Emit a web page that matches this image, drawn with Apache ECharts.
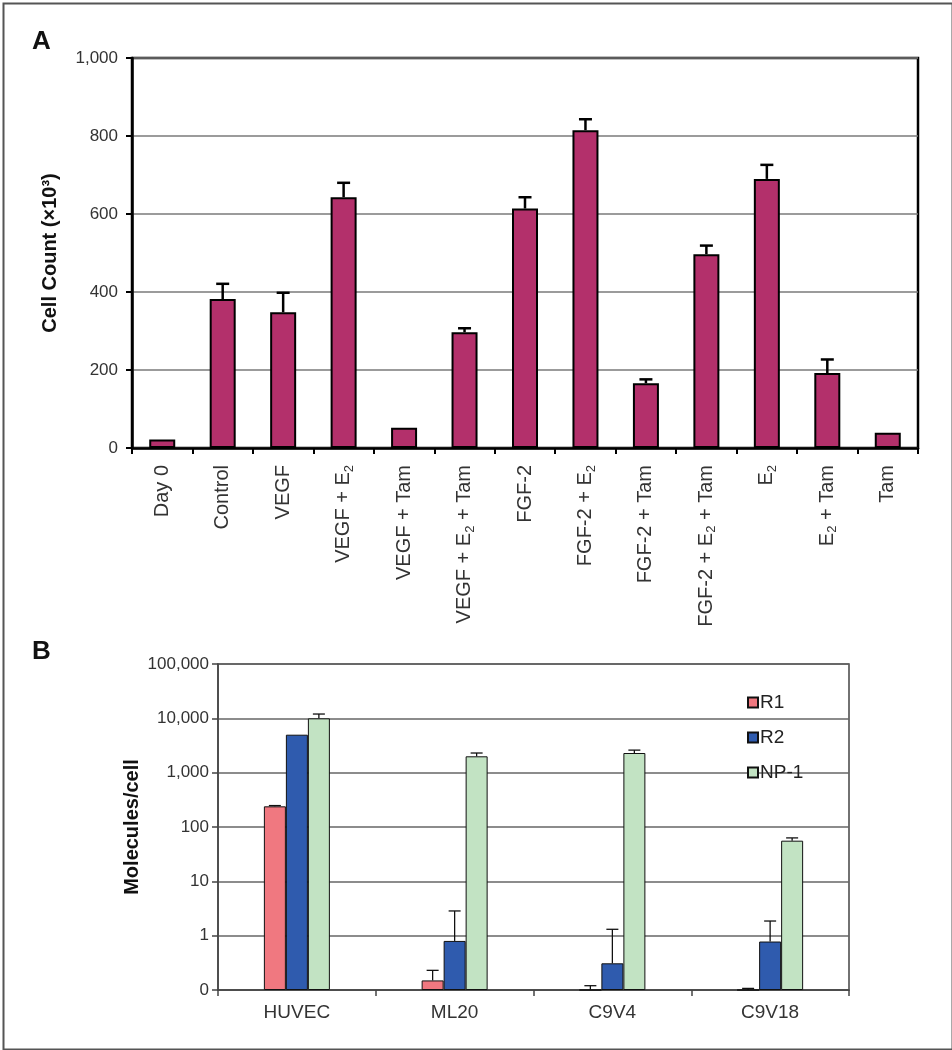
<!DOCTYPE html>
<html><head><meta charset="utf-8">
<script src="https://cdn.jsdelivr.net/npm/echarts@6/dist/echarts.min.js"></script>
<style>html,body{margin:0;padding:0;background:#fff}#c{width:952px;height:1050px}</style>
</head><body><div id="c"></div>
<script>
// ---- Panel A data ----
const A_CATEGORIES = ['Day 0','Control','VEGF','VEGF + E₂','VEGF + Tam','VEGF + E₂ + Tam','FGF-2','FGF-2 + E₂','FGF-2 + Tam','FGF-2 + E₂ + Tam','E₂','E₂ + Tam','Tam'];
const A_VALUES = [22, 382, 348, 643, 52, 297, 614, 815, 166, 497, 690, 192, 39];
const A_ERRORS = [0, 39, 50, 37, 0, 10, 29, 28, 10, 22, 36, 35, 0];
const A_Y_NAME = 'Cell Count (×10³)';
// ---- Panel B data ----
const B_CATEGORIES = ['HUVEC','ML20','C9V4','C9V18'];
const B_SERIES = ['R1','R2','NP-1'];
const B_R1 = [240, 0.15, 0.1, 0.1];
const B_R1_ERR = [8, 0.08, 0.02, 0.007];
const B_R2 = [5000, 0.8, 0.31, 0.78];
const B_R2_ERR = [0, 2.05, 1.0, 1.08];
const B_NP1 = [10000, 2000, 2300, 56];
const B_NP1_ERR = [2000, 300, 300, 7];
const B_TICK_LABELS = ['0','1','10','100','1,000','10,000','100,000'];
const B_Y_NAME = 'Molecules/cell';

const FONT = '"Liberation Sans", Arial, sans-serif';
const A_COLOR = '#B3306B';
const B_COLORS = ['#F07880', '#2F5BAE', '#C2E3C3'];

// log-decade position with 0.1 at the axis base
const toB = v => Math.log10(v) + 1;

function richLabel(s) {
  const parts = s.split('₂');
  let out = '';
  parts.forEach((p, i) => {
    if (p) out += '{n|' + p + '}';
    if (i < parts.length - 1) out += '{s|2}';
  });
  return out;
}

const chart = echarts.init(document.getElementById('c'), null, {renderer: 'canvas'});

const bData = [B_R1, B_R2, B_NP1];
const bErr = [B_R1_ERR, B_R2_ERR, B_NP1_ERR];
const BAR_W_B = 22;

const series = [
  {
    type: 'bar', xAxisIndex: 0, yAxisIndex: 0,
    data: A_VALUES, barWidth: 26,
    itemStyle: {color: A_COLOR, borderColor: '#000', borderWidth: 2},
    z: 2
  },
  {
    type: 'custom', xAxisIndex: 0, yAxisIndex: 0, z: 5,
    data: A_VALUES.map((v, i) => [i, v, A_ERRORS[i]]),
    encode: {x: 0, y: 1},
    renderItem: function (params, api) {
      const i = api.value(0), v = api.value(1), e = api.value(2);
      if (!(e > 0)) return null;
      const p0 = api.coord([i, v]);
      const p1 = api.coord([i, v + e]);
      const st = {stroke: '#000', lineWidth: 2.5};
      return {type: 'group', children: [
        {type: 'line', shape: {x1: p0[0], y1: p0[1], x2: p1[0], y2: p1[1]}, style: st},
        {type: 'line', shape: {x1: p1[0] - 6.5, y1: p1[1], x2: p1[0] + 6.5, y2: p1[1]}, style: st}
      ]};
    }
  }
];

B_SERIES.forEach((name, j) => {
  series.push({
    type: 'bar', name: name, xAxisIndex: 1, yAxisIndex: 1,
    data: bData[j].map(toB), barWidth: BAR_W_B, barGap: '0%',
    itemStyle: {color: B_COLORS[j], borderColor: '#111', borderWidth: 1},
    z: 2
  });
});
B_SERIES.forEach((name, j) => {
  series.push({
    type: 'custom', xAxisIndex: 1, yAxisIndex: 1, z: 5,
    data: bData[j].map((v, i) => [i, toB(v), toB(v + bErr[j][i]), bErr[j][i]]),
    encode: {x: 0, y: 1},
    renderItem: function (params, api) {
      const i = api.value(0), lo = api.value(1), hi = api.value(2), e = api.value(3);
      if (!(e > 0)) return null;
      const off = (j - 1) * BAR_W_B;
      const p0 = api.coord([i, lo]);
      const p1 = api.coord([i, hi]);
      const x = p0[0] + off;
      const st = {stroke: '#111', lineWidth: 1.3};
      return {type: 'group', children: [
        {type: 'line', shape: {x1: x, y1: p0[1], x2: x, y2: p1[1]}, style: st},
        {type: 'line', shape: {x1: x - 6, y1: p1[1], x2: x + 6, y2: p1[1]}, style: st}
      ]};
    }
  });
});

const option = {
  backgroundColor: '#fff',
  animation: false,
  textStyle: {fontFamily: FONT},
  grid: [
    {left: 132, top: 58, width: 786, height: 390, show: true, borderColor: '#000', borderWidth: 2.5},
    {left: 218, top: 664, width: 631, height: 326, show: true, borderColor: '#444', borderWidth: 1.5}
  ],
  legend: {
    data: B_SERIES, orient: 'vertical', left: 742, top: 688,
    itemWidth: 10, itemHeight: 10, itemGap: 16, icon: 'rect',
    textStyle: {fontSize: 19, color: '#222', fontFamily: FONT, lineHeight: 18, padding: [0, 0, 0, -3]}
  },
  xAxis: [
    {
      type: 'category', gridIndex: 0, data: A_CATEGORIES,
      axisLine: {lineStyle: {color: '#000', width: 2.5}},
      axisTick: {show: true, length: 6, lineStyle: {color: '#000', width: 2}},
      axisLabel: {
        interval: 0, rotate: 90, margin: 17, color: '#333', fontFamily: FONT,
        formatter: v => richLabel(v),
        rich: {
          n: {fontSize: 20, color: '#333', fontFamily: FONT, lineHeight: 24},
          s: {fontSize: 13, color: '#333', fontFamily: FONT, verticalAlign: 'bottom', lineHeight: 13}
        }
      }
    },
    {
      type: 'category', gridIndex: 1, data: B_CATEGORIES,
      axisLine: {lineStyle: {color: '#444', width: 1.5}},
      axisTick: {show: true, length: 6, lineStyle: {color: '#444', width: 1.5}},
      axisLabel: {interval: 0, margin: 13, fontSize: 19, color: '#333', fontFamily: FONT}
    }
  ],
  yAxis: [
    {
      type: 'value', gridIndex: 0, min: 0, max: 1000, interval: 200,
      name: A_Y_NAME, nameLocation: 'middle', nameGap: 72,
      nameTextStyle: {fontSize: 20, fontWeight: 'bold', color: '#111', fontFamily: FONT},
      axisLine: {show: true, lineStyle: {color: '#000', width: 2.5}},
      axisTick: {show: true, length: 6, lineStyle: {color: '#000', width: 2}},
      axisLabel: {fontSize: 17, color: '#333', margin: 14, fontFamily: FONT,
        formatter: v => v.toLocaleString('en-US')},
      splitLine: {show: true, lineStyle: {color: '#7a7a7a', width: 1.5}}
    },
    {
      type: 'value', gridIndex: 1, min: 0, max: 6, interval: 1,
      name: B_Y_NAME, nameLocation: 'middle', nameGap: 76, nameMoveOverlap: false,
      nameTextStyle: {fontSize: 20, fontWeight: 'bold', color: '#111', fontFamily: FONT},
      axisLine: {show: true, lineStyle: {color: '#444', width: 1.5}},
      axisTick: {show: true, length: 6, lineStyle: {color: '#444', width: 1.5}},
      axisLabel: {fontSize: 17, color: '#333', margin: 9, fontFamily: FONT,
        formatter: v => B_TICK_LABELS[Math.round(v)]},
      splitLine: {show: true, lineStyle: {color: '#666', width: 1.5}}
    }
  ],
  graphic: [
    {type: 'rect', left: 1, top: 1, shape: {width: 949, height: 1046}, style: {fill: 'none', stroke: '#555', lineWidth: 2}, silent: true},
    {type: 'text', left: 32, top: 29, style: {text: 'A', fontSize: 26, fontWeight: 'bold', fill: '#111', fontFamily: FONT}},
    {type: 'text', left: 32, top: 639, style: {text: 'B', fontSize: 26, fontWeight: 'bold', fill: '#111', fontFamily: FONT}}
  ],
  series: series
};
chart.setOption(option);
</script>
</body></html>
